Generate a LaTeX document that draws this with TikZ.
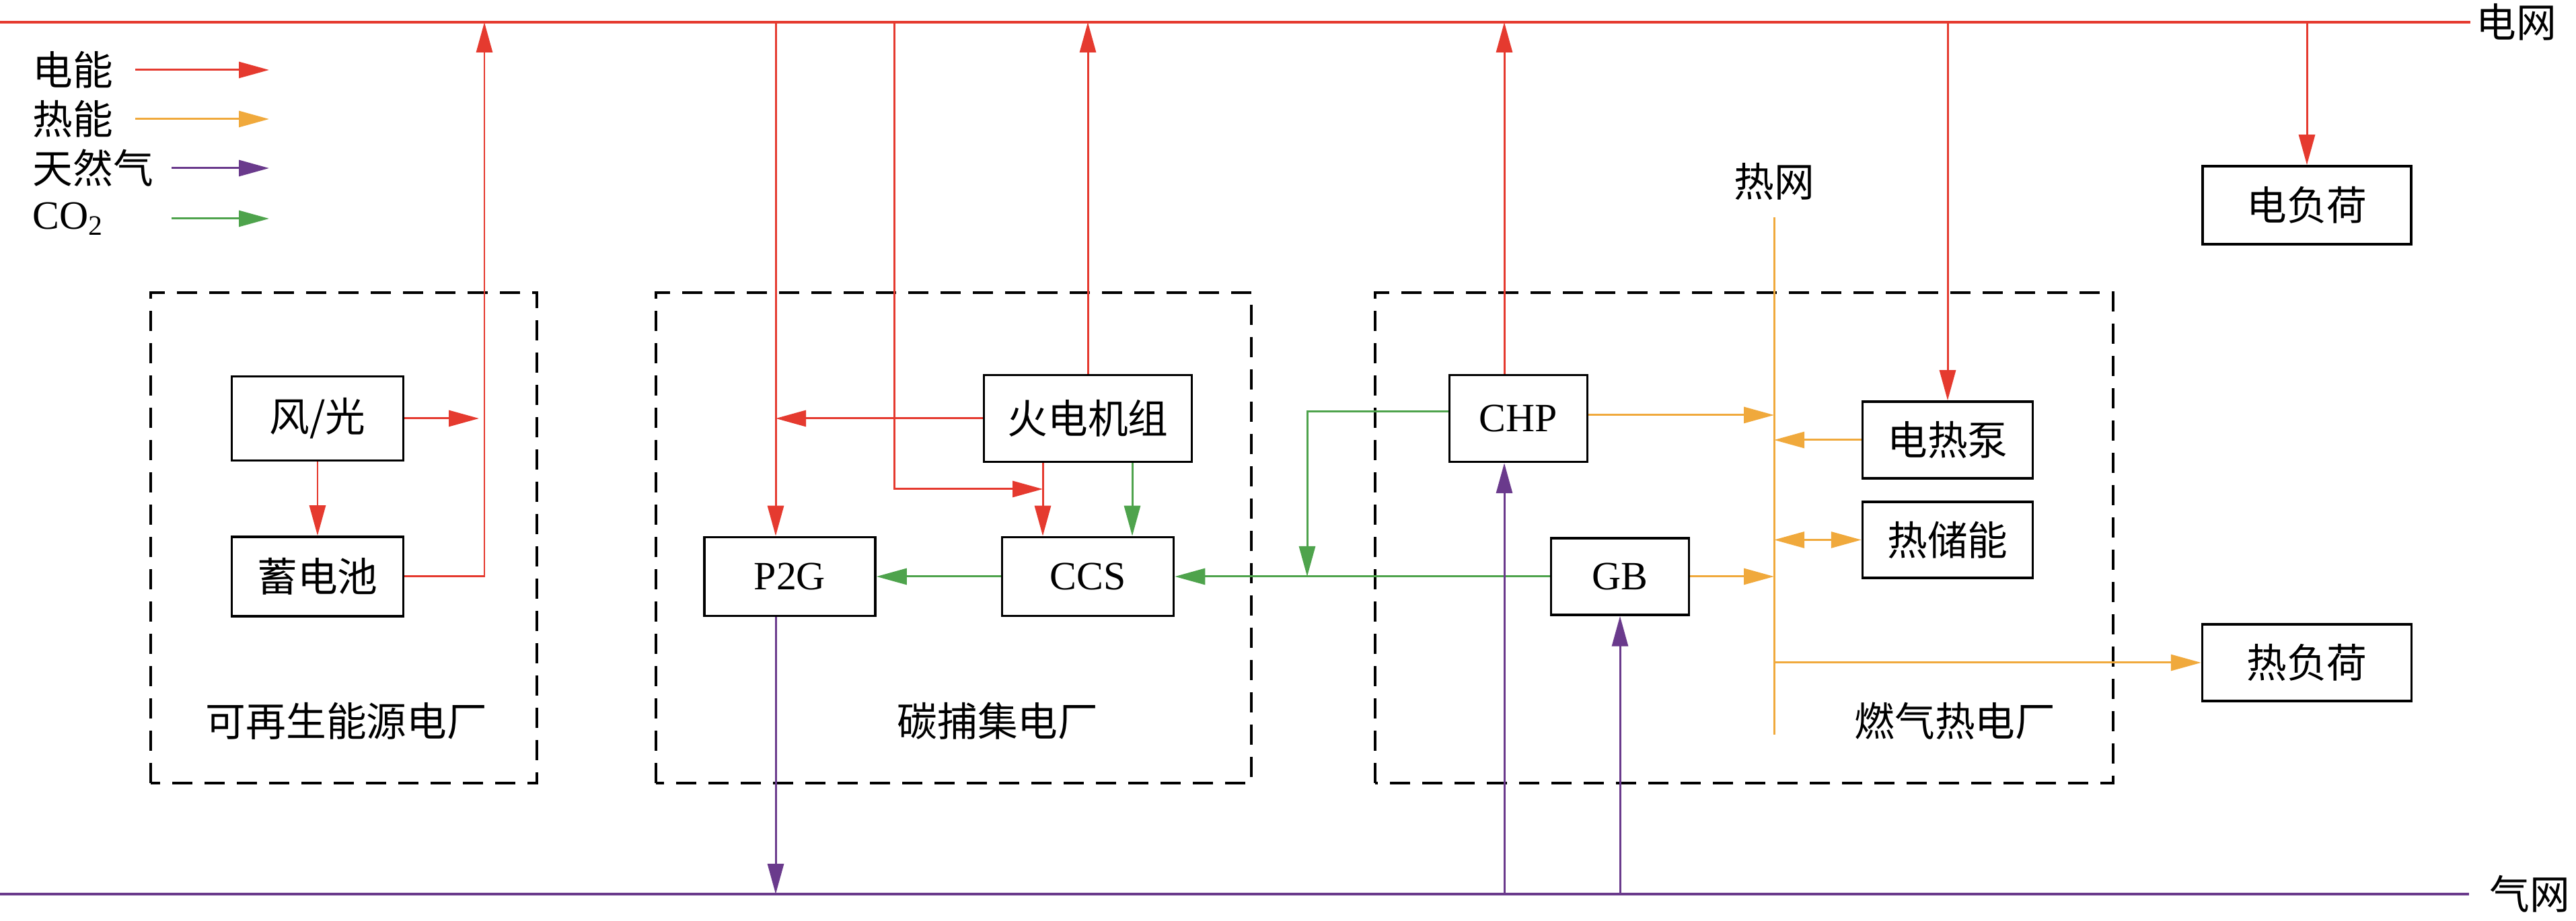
\documentclass[tikz,border=0pt]{standalone}
\usepackage{fontspec}
\setmainfont{Liberation Serif}
\newfontfamily\cjk{Noto Sans CJK SC}
\usetikzlibrary{arrows.meta,positioning,calc}
\definecolor{ered}{HTML}{E53A2F}
\definecolor{eorange}{HTML}{F0A93C}
\definecolor{epurple}{HTML}{6A3A8C}
\definecolor{egreen}{HTML}{4EA34C}

\begin{document}
\begin{tikzpicture}[
  font=\fontsize{17pt}{20pt}\selectfont,
  unit/.style={rectangle, draw, line width=1pt, inner sep=0pt, align=center},
  plant/.style={draw, line width=1pt, dash pattern=on 3mm off 1.8mm},
  tip/.style={-{Triangle[length=4.5mm, width=2.4mm]}},
  flow/.style={tip, line width=0.85pt},
  elec/.style={flow, color=ered},
  heat/.style={flow, color=eorange},
  gas/.style={flow, color=epurple},
  co2/.style={flow, color=egreen}
]
\useasboundingbox (0,0) rectangle (38.29,13.69);

% networks
\coordinate (egw) at (0,13.36);
\coordinate (ege) at (36.72,13.36);
\coordinate (ggw) at (0,0.40);
\coordinate (gge) at (36.70,0.40);
\draw[ered, line width=1.33pt] (egw) -- (ege);
\draw[epurple, line width=1.33pt] (ggw) -- (gge);
\node[right=0.08cm of ege, inner sep=0pt] (egl) {\cjk 电网};
\node[right=0.3cm of gge, inner sep=0pt] (ggl) {\cjk 气网};

% legend
\foreach \y/\x/\c/\t [count=\i] in {12.65/2.01/ered/{\cjk 电能}, 11.92/2.01/eorange/{\cjk 热能},
    11.19/2.55/epurple/{\cjk 天然气}, 10.44/2.55/egreen/{CO\textsubscript{2}}}{
  \node[anchor=west, inner sep=0pt] (lg\i) at (0.48,\y) {\t};
  \draw[flow, color=\c] (\x,\y) -- (4.00,\y);
}

% plants
\draw[plant] (2.24,2.05) rectangle (7.98,9.34);
\draw[plant] (9.75,2.05) rectangle (18.60,9.34);
\draw[plant] (20.44,2.05) rectangle (31.41,9.34);
\node (lbl1) at (5.15,2.97) {\cjk 可再生能源电厂};
\node (lbl2) at (14.83,2.97) {\cjk 碳捕集电厂};
\node (lbl3) at (29.06,2.97) {\cjk 燃气热电厂};

% units
\node[unit, minimum width=2.55cm, minimum height=1.25cm] (wind) at (4.72,7.47) {\cjk 风/光};
\node[unit, minimum width=2.55cm, minimum height=1.18cm] (batt) at (4.72,5.12) {\cjk 蓄电池};
\node[unit, minimum width=3.09cm, minimum height=1.29cm] (thermal) at (16.17,7.47) {\cjk 火电机组};
\node[unit, minimum width=2.54cm, minimum height=1.17cm] (p2g) at (11.74,5.12) {P2G};
\node[unit, minimum width=2.55cm, minimum height=1.17cm] (ccs) at (16.17,5.12) {CCS};
\node[unit, minimum width=2.05cm, minimum height=1.29cm] (chp) at (22.57,7.47) {CHP};
\node[unit, minimum width=2.05cm, minimum height=1.14cm] (gb) at (24.08,5.12) {GB};
\node[unit, minimum width=2.53cm, minimum height=1.14cm] (hp) at (28.95,7.15) {\cjk 电热泵};
\node[unit, minimum width=2.53cm, minimum height=1.13cm] (ts) at (28.95,5.665) {\cjk 热储能};
\node[unit, minimum width=3.10cm, minimum height=1.16cm] (eload) at (34.29,10.64) {\cjk 电负荷};
\node[unit, minimum width=3.11cm, minimum height=1.14cm] (hload) at (34.29,3.84) {\cjk 热负荷};

% heat network
\coordinate (bustop) at (26.37,10.46);
\coordinate (busbot) at (26.37,2.77);
\draw[eorange, line width=0.85pt] (bustop) -- (busbot);
\node[above=0.25cm of bustop, inner sep=0pt] (hnet) {\cjk 热网};

% renewable plant
\coordinate (riser) at (7.20,13.36);
\draw[elec] (wind) -- (batt);
\draw[elec] (wind.east) -- ([xshift=-0.08cm]wind.east -| riser);
\draw[elec] (batt.east) -| (riser);

% carbon capture plant
\coordinate (p2gtap) at (11.53,13.36);
\coordinate (ccstap) at (13.29,13.36);
\coordinate (ccsjoin) at (15.50,6.42);
\draw[elec] (p2gtap) -- (p2gtap |- p2g.north);
\draw[elec] (thermal.west) -- (thermal.west -| p2gtap);
\draw[elec] (ccstap) |- (ccsjoin);
\draw[elec] ([xshift=-0.67cm]thermal.south) -- ([xshift=-0.67cm]ccs.north);
\draw[co2] ([xshift=0.66cm]thermal.south) -- ([xshift=0.66cm]ccs.north);
\draw[elec] (thermal.north) -- (thermal.north |- egw);
\draw[co2] (ccs.west) -- (p2g.east);
\draw[gas] (p2gtap |- p2g.south) -- (p2gtap |- ggw);

% gas-fired CHP plant
\coordinate (co2drop) at (19.43,5.12);
\draw[co2] (gb.west) -- (gb.west -| ccs.east);
\draw[co2] ([yshift=0.1cm]chp.west) -| (co2drop);
\draw[elec] ([xshift=-0.21cm]chp.north) -- ([xshift=-0.21cm]chp.north |- egw);
\draw[gas] ([xshift=-0.21cm]chp.south |- ggw) -- ([xshift=-0.21cm]chp.south);
\draw[gas] (gb.south |- ggw) -- (gb.south);
\draw[heat] ([yshift=0.05cm]chp.east) -- ([yshift=0.05cm]chp.east -| bustop);
\draw[heat] (hp.west) -- (hp.west -| bustop);
\draw[heat, {Triangle[length=4.5mm, width=2.4mm]}-{Triangle[length=4.5mm, width=2.4mm]}] (ts.west -| bustop) -- (ts.west);
\draw[heat] (gb.east) -- (gb.east -| bustop);
\draw[heat] (busbot |- hload.west) -- (hload.west);
\draw[elec] (hp.north |- egw) -- (hp.north);
\draw[elec] (eload.north |- egw) -- (eload.north);
\end{tikzpicture}
\end{document}
